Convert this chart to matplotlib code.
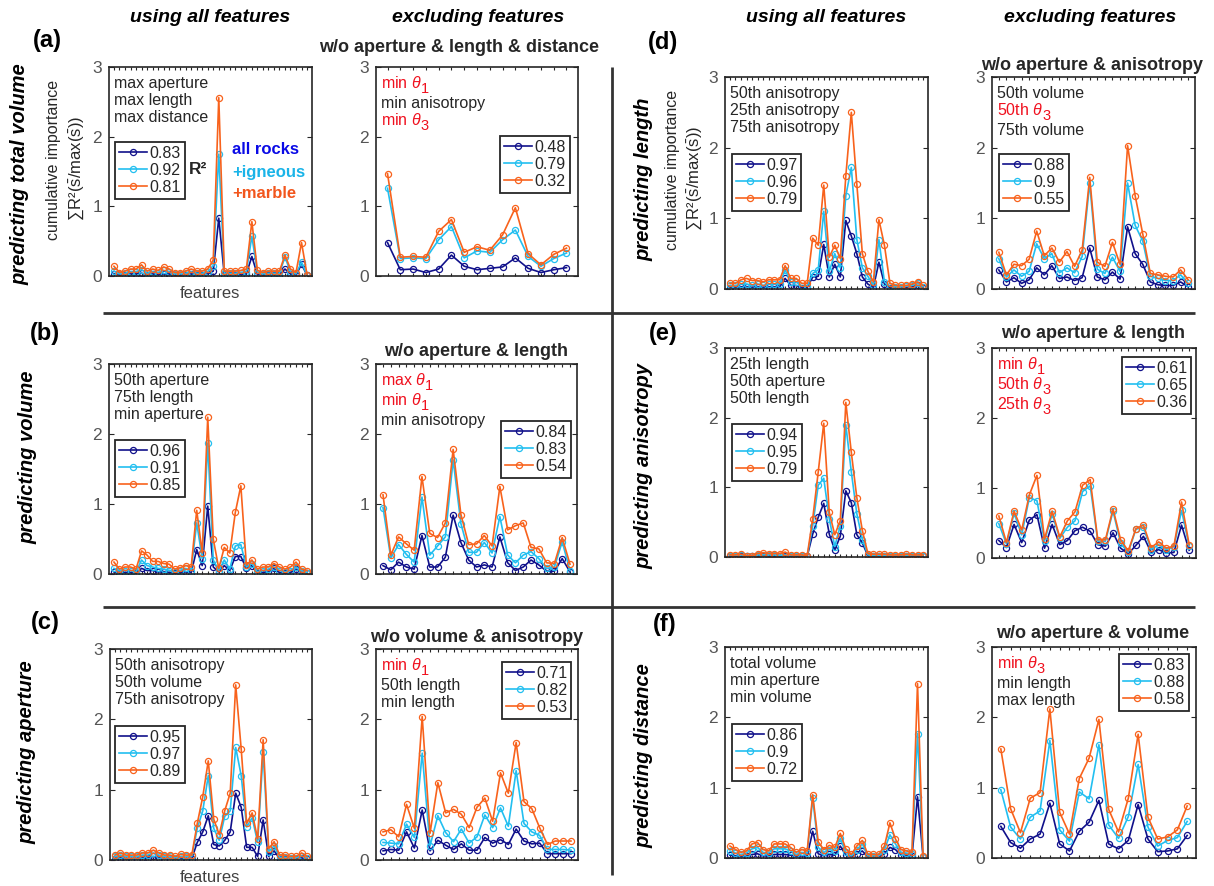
import matplotlib
matplotlib.use('Agg')
import matplotlib.pyplot as plt
from matplotlib.lines import Line2D

plt.rcParams['font.family'] = ['Liberation Sans', 'DejaVu Sans']
plt.rcParams['mathtext.fontset'] = 'custom'
plt.rcParams['mathtext.rm'] = 'Liberation Sans'
plt.rcParams['mathtext.it'] = 'Liberation Sans:italic'
plt.rcParams['mathtext.bf'] = 'Liberation Sans:bold'

W, H = 1214, 886

# ---- data: cumulative importance per feature (all rocks / +igneous / +marble)
a_all_navy = [0.03,0.01,0.02,0.03,0.03,0.04,0.02,0.03,0.02,0.03,0.03,0.01,0.01,0.02,0.03,0.02,0.02,0.03,0.07,0.83,0.02,0.02,0.02,0.02,0.03,0.28,0.02,0.01,0.02,0.02,0.02,0.10,0.03,0.01,0.17,0.01]
a_all_cyan = [0.07,0.03,0.04,0.06,0.06,0.09,0.04,0.06,0.05,0.08,0.06,0.03,0.03,0.04,0.06,0.04,0.04,0.06,0.15,1.75,0.04,0.04,0.04,0.05,0.06,0.57,0.05,0.03,0.04,0.04,0.04,0.27,0.06,0.03,0.20,0.01]
a_all_orange = [0.14,0.05,0.07,0.10,0.10,0.16,0.07,0.10,0.08,0.13,0.10,0.05,0.05,0.07,0.10,0.07,0.07,0.10,0.23,2.56,0.07,0.07,0.07,0.08,0.10,0.78,0.08,0.05,0.07,0.07,0.07,0.30,0.10,0.05,0.48,0.02]

a_ex_navy = [0.48,0.09,0.10,0.05,0.10,0.30,0.14,0.09,0.11,0.13,0.26,0.11,0.05,0.09,0.12]
a_ex_cyan = [1.26,0.25,0.26,0.25,0.52,0.71,0.26,0.36,0.34,0.52,0.66,0.28,0.14,0.25,0.33]
a_ex_orange = [1.47,0.27,0.28,0.27,0.64,0.81,0.34,0.42,0.37,0.59,0.98,0.32,0.16,0.31,0.40]

b_all_navy = [0.03,0.02,0.02,0.02,0.01,0.08,0.05,0.05,0.03,0.03,0.02,0.01,0.02,0.03,0.02,0.35,0.12,0.97,0.10,0.03,0.12,0.05,0.25,0.25,0.08,0.12,0.02,0.02,0.03,0.08,0.02,0.01,0.02,0.07,0.02,0.01]
b_all_cyan = [0.08,0.05,0.05,0.05,0.03,0.20,0.12,0.10,0.08,0.07,0.05,0.03,0.05,0.08,0.05,0.73,0.22,1.87,0.20,0.05,0.20,0.07,0.40,0.42,0.10,0.15,0.03,0.05,0.07,0.10,0.05,0.03,0.05,0.10,0.05,0.02]
b_all_orange = [0.17,0.07,0.10,0.10,0.07,0.33,0.27,0.18,0.18,0.15,0.14,0.07,0.09,0.12,0.10,0.91,0.30,2.24,0.50,0.08,0.38,0.30,0.88,1.26,0.13,0.20,0.07,0.10,0.10,0.15,0.10,0.07,0.10,0.17,0.07,0.05]

b_ex_navy = [0.12,0.06,0.17,0.10,0.07,0.55,0.10,0.10,0.24,0.84,0.45,0.20,0.10,0.13,0.10,0.53,0.16,0.05,0.10,0.20,0.13,0.04,0.04,0.22,0.03]
b_ex_cyan = [0.95,0.23,0.42,0.28,0.17,1.10,0.27,0.40,0.53,1.63,0.72,0.31,0.31,0.45,0.30,0.82,0.27,0.16,0.27,0.32,0.22,0.08,0.10,0.46,0.05]
b_ex_orange = [1.13,0.27,0.53,0.43,0.34,1.39,0.58,0.52,0.73,1.78,0.85,0.42,0.43,0.55,0.40,1.25,0.63,0.69,0.73,0.38,0.36,0.16,0.15,0.52,0.14]

c_all_navy = [0.02,0.03,0.02,0.02,0.02,0.03,0.03,0.05,0.03,0.02,0.02,0.01,0.02,0.02,0.02,0.25,0.40,0.63,0.22,0.20,0.28,0.40,0.95,0.75,0.18,0.18,0.05,0.57,0.05,0.13,0.02,0.02,0.01,0.01,0.03,0.01]
c_all_cyan = [0.05,0.07,0.05,0.05,0.05,0.07,0.07,0.10,0.07,0.05,0.05,0.03,0.05,0.05,0.05,0.45,0.70,1.20,0.45,0.28,0.62,0.70,1.60,1.20,0.47,0.60,0.25,1.53,0.12,0.20,0.04,0.04,0.03,0.03,0.06,0.03]
c_all_orange = [0.07,0.10,0.07,0.07,0.07,0.10,0.10,0.14,0.10,0.07,0.07,0.05,0.08,0.07,0.07,0.52,0.90,1.41,0.58,0.36,0.70,0.95,2.49,1.58,0.52,0.67,0.30,1.71,0.16,0.26,0.07,0.07,0.05,0.05,0.10,0.05]

c_ex_navy = [0.13,0.15,0.14,0.40,0.17,0.71,0.13,0.28,0.21,0.15,0.23,0.14,0.14,0.32,0.24,0.29,0.22,0.44,0.27,0.23,0.24,0.09,0.09,0.09,0.09]
c_ex_cyan = [0.25,0.24,0.23,0.51,0.32,1.52,0.20,0.63,0.39,0.26,0.44,0.24,0.33,0.64,0.46,0.74,0.48,1.27,0.52,0.40,0.35,0.15,0.15,0.15,0.14]
c_ex_orange = [0.40,0.43,0.33,0.79,0.45,2.04,0.38,1.10,0.67,0.72,0.65,0.46,0.75,0.88,0.55,1.24,0.95,1.67,0.83,0.73,0.46,0.22,0.27,0.27,0.27]

d_all_navy = [0.02,0.02,0.03,0.03,0.02,0.03,0.02,0.03,0.03,0.03,0.15,0.05,0.05,0.02,0.02,0.17,0.18,0.63,0.17,0.35,0.17,0.97,0.75,0.50,0.17,0.07,0.02,0.38,0.07,0.02,0.01,0.01,0.02,0.03,0.05,0.01]
d_all_cyan = [0.05,0.05,0.07,0.07,0.05,0.07,0.05,0.07,0.07,0.07,0.27,0.10,0.10,0.04,0.04,0.22,0.27,1.10,0.25,0.50,0.30,1.32,1.72,0.70,0.30,0.18,0.05,0.70,0.10,0.04,0.03,0.03,0.04,0.05,0.08,0.03]
d_all_orange = [0.08,0.08,0.13,0.15,0.12,0.12,0.10,0.13,0.13,0.13,0.33,0.15,0.15,0.08,0.08,0.72,0.62,1.47,0.45,0.62,0.43,1.60,2.50,1.48,0.50,0.25,0.10,0.98,0.62,0.08,0.05,0.05,0.05,0.07,0.10,0.05]

d_ex_navy = [0.27,0.10,0.16,0.08,0.13,0.30,0.20,0.33,0.15,0.17,0.12,0.16,0.58,0.17,0.13,0.24,0.14,0.88,0.50,0.35,0.10,0.06,0.05,0.05,0.10,0.03]
d_ex_cyan = [0.43,0.17,0.27,0.18,0.25,0.64,0.43,0.50,0.23,0.30,0.23,0.46,1.50,0.28,0.22,0.45,0.25,1.50,0.90,0.68,0.18,0.15,0.12,0.12,0.20,0.08]
d_ex_orange = [0.52,0.20,0.35,0.33,0.42,0.82,0.47,0.58,0.38,0.53,0.32,0.55,1.58,0.38,0.32,0.66,0.35,2.03,1.32,0.78,0.22,0.20,0.18,0.17,0.27,0.13]

e_all_navy = [0.01,0.01,0.01,0.01,0.01,0.01,0.02,0.01,0.01,0.01,0.02,0.01,0.01,0.01,0.01,0.33,0.57,0.77,0.33,0.10,0.30,0.95,0.78,0.32,0.20,0.02,0.01,0.01,0.01,0.01,0.01,0.01,0.01,0.01,0.01,0.01]
e_all_cyan = [0.02,0.02,0.03,0.01,0.01,0.03,0.03,0.03,0.03,0.02,0.03,0.02,0.02,0.02,0.01,0.45,1.03,1.13,0.55,0.15,0.45,1.90,1.22,0.62,0.25,0.03,0.02,0.02,0.02,0.02,0.02,0.02,0.02,0.02,0.02,0.02]
e_all_orange = [0.03,0.03,0.04,0.02,0.02,0.05,0.06,0.05,0.05,0.05,0.07,0.03,0.03,0.03,0.02,0.55,1.22,1.92,0.64,0.32,0.52,2.22,1.50,0.85,0.38,0.05,0.04,0.04,0.04,0.03,0.03,0.03,0.04,0.03,0.03,0.03]

e_ex_navy = [0.25,0.15,0.48,0.22,0.54,0.62,0.14,0.48,0.19,0.25,0.39,0.44,0.38,0.19,0.17,0.36,0.14,0.06,0.18,0.31,0.08,0.12,0.07,0.08,0.47,0.11]
e_ex_cyan = [0.49,0.20,0.64,0.33,0.86,0.82,0.24,0.63,0.28,0.44,0.53,0.95,1.03,0.24,0.24,0.67,0.21,0.08,0.41,0.44,0.12,0.19,0.12,0.16,0.68,0.17]
e_ex_orange = [0.60,0.22,0.67,0.40,0.90,1.18,0.27,0.67,0.30,0.53,0.66,1.04,1.12,0.26,0.26,0.70,0.26,0.10,0.42,0.47,0.15,0.23,0.14,0.17,0.80,0.19]

f_all_navy = [0.04,0.03,0.02,0.03,0.05,0.06,0.03,0.03,0.05,0.05,0.05,0.04,0.02,0.03,0.03,0.38,0.06,0.03,0.05,0.04,0.17,0.04,0.01,0.06,0.10,0.01,0.01,0.01,0.06,0.15,0.12,0.04,0.03,0.03,0.87,0.02]
f_all_cyan = [0.10,0.07,0.05,0.07,0.13,0.15,0.08,0.07,0.13,0.13,0.13,0.10,0.05,0.08,0.07,0.85,0.15,0.08,0.12,0.10,0.28,0.08,0.03,0.12,0.20,0.03,0.03,0.03,0.12,0.33,0.20,0.08,0.07,0.06,1.77,0.02]
f_all_orange = [0.17,0.12,0.08,0.10,0.20,0.22,0.12,0.10,0.20,0.20,0.20,0.15,0.08,0.12,0.10,0.90,0.23,0.12,0.18,0.15,0.35,0.13,0.05,0.17,0.25,0.05,0.05,0.05,0.17,0.50,0.27,0.12,0.10,0.08,2.48,0.03]

f_ex_navy = [0.45,0.22,0.14,0.27,0.34,0.78,0.20,0.10,0.38,0.51,0.82,0.20,0.13,0.25,0.76,0.27,0.09,0.10,0.13,0.32]
f_ex_cyan = [0.97,0.44,0.27,0.58,0.67,1.67,0.40,0.24,0.94,0.84,1.61,0.47,0.28,0.59,1.33,0.44,0.17,0.25,0.29,0.52]
f_ex_orange = [1.55,0.70,0.36,0.85,0.93,2.12,0.65,0.34,1.13,1.42,1.97,0.69,0.37,0.85,1.76,0.58,0.27,0.30,0.40,0.74]

NAVY, CYAN, ORANGE = '#10108a', '#22bff0', '#f8621c'
RED, DARK = '#f0101e', '#262626'
TH = r'$\theta$'

# top-feature lines: (text, subscript or None, colour)
panels = [
    dict(box=(109, 67, 312, 276), y=(a_all_navy, a_all_cyan, a_all_orange), r2=('0.83', '0.92', '0.81'),
         top=[('max aperture', None, DARK), ('max length', None, DARK), ('max distance', None, DARK)],
         leg=(115, 142)),
    dict(box=(376, 67, 578, 276), y=(a_ex_navy, a_ex_cyan, a_ex_orange), r2=('0.48', '0.79', '0.32'),
         top=[('min ' + TH, '1', RED), ('min anisotropy', None, DARK), ('min ' + TH, '3', RED)],
         leg=(500, 136), sub=('w/o aperture & length & distance', 459, 47)),
    dict(box=(109, 364, 312, 574), y=(b_all_navy, b_all_cyan, b_all_orange), r2=('0.96', '0.91', '0.85'),
         top=[('50th aperture', None, DARK), ('75th length', None, DARK), ('min aperture', None, DARK)],
         leg=(115, 440)),
    dict(box=(376, 364, 577, 574), y=(b_ex_navy, b_ex_cyan, b_ex_orange), r2=('0.84', '0.83', '0.54'),
         top=[('max ' + TH, '1', RED), ('min ' + TH, '1', RED), ('min anisotropy', None, DARK)],
         leg=(501, 421), sub=('w/o aperture & length', 476, 352)),
    dict(box=(110, 649, 312, 860), y=(c_all_navy, c_all_cyan, c_all_orange), r2=('0.95', '0.97', '0.89'),
         top=[('50th anisotropy', None, DARK), ('50th volume', None, DARK), ('75th anisotropy', None, DARK)],
         leg=(115, 726)),
    dict(box=(376, 649, 578, 860), y=(c_ex_navy, c_ex_cyan, c_ex_orange), r2=('0.71', '0.82', '0.53'),
         top=[('min ' + TH, '1', RED), ('50th length', None, DARK), ('min length', None, DARK)],
         leg=(502, 662), sub=('w/o volume & anisotropy', 477, 637)),
    dict(box=(725, 77, 928, 289), y=(d_all_navy, d_all_cyan, d_all_orange), r2=('0.97', '0.96', '0.79'),
         top=[('50th anisotropy', None, DARK), ('25th anisotropy', None, DARK), ('75th anisotropy', None, DARK)],
         leg=(732, 154)),
    dict(box=(992, 77, 1195, 289), y=(d_ex_navy, d_ex_cyan, d_ex_orange), r2=('0.88', '0.9', '0.55'),
         top=[('50th volume', None, DARK), ('50th ' + TH, '3', RED), ('75th volume', None, DARK)],
         leg=(999, 154), sub=('w/o aperture & anisotropy', 1092, 65)),
    dict(box=(725, 348, 928, 557), y=(e_all_navy, e_all_cyan, e_all_orange), r2=('0.94', '0.95', '0.79'),
         top=[('25th length', None, DARK), ('50th aperture', None, DARK), ('50th length', None, DARK)],
         leg=(732, 424)),
    dict(box=(992, 348, 1196, 558), y=(e_ex_navy, e_ex_cyan, e_ex_orange), r2=('0.61', '0.65', '0.36'),
         top=[('min ' + TH, '1', RED), ('50th ' + TH, '3', RED), ('25th ' + TH, '3', RED)],
         leg=(1122, 357), sub=('w/o aperture & length', 1093, 333)),
    dict(box=(725, 647, 928, 858), y=(f_all_navy, f_all_cyan, f_all_orange), r2=('0.86', '0.9', '0.72'),
         top=[('total volume', None, DARK), ('min aperture', None, DARK), ('min volume', None, DARK)],
         leg=(732, 724)),
    dict(box=(992, 647, 1196, 858), y=(f_ex_navy, f_ex_cyan, f_ex_orange), r2=('0.83', '0.88', '0.58'),
         top=[('min ' + TH, '3', RED), ('min length', None, DARK), ('max length', None, DARK)],
         leg=(1119, 654), sub=('w/o aperture & volume', 1093, 634)),
]

fig = plt.figure(figsize=(W / 100, H / 100), dpi=100)
renderer = fig.canvas.get_renderer()


def ftext(x, y, s, **kw):
    return fig.text(x / W, 1 - y / H, s, **kw)


def fline(x0, y0, x1, y1, lw=2.0):
    fig.add_artist(Line2D([x0 / W, x1 / W], [1 - y0 / H, 1 - y1 / H], transform=fig.transFigure,
                          color='#333333', lw=lw, solid_capstyle='butt'))


for p in panels:
    l, t, r, b = p['box']
    ax = fig.add_axes([l / W, 1 - b / H, (r - l) / W, (b - t) / H])
    n = len(p['y'][0])
    xs = list(range(1, n + 1))
    handles = []
    for yv, col in zip(p['y'], (NAVY, CYAN, ORANGE)):
        h, = ax.plot(xs, yv, '-o', color=col, lw=1.2, ms=4.4, mfc='none', mew=0.9)
        handles.append(h)
    ax.set_xlim(0.1, n + 0.9)
    ax.set_ylim(0, 3)
    ax.set_xticks(xs)
    ax.set_xticklabels([])
    ax.set_yticks([0, 1, 2, 3])
    ax.tick_params(axis='x', direction='in', top=True, bottom=True, length=2.5, width=0.8, color=DARK)
    ax.tick_params(axis='y', direction='in', left=True, right=True, length=3.5, width=0.8, color=DARK,
                   labelsize=12.5, labelcolor='#555555', pad=5)
    for s in ax.spines.values():
        s.set_color(DARK)
        s.set_linewidth(1.2)
    yb = t + 21
    for txt, subs, col in p['top']:
        tx = ftext(l + 5, yb, txt, color=col, fontsize=11.5, va='baseline', ha='left')
        if subs:
            bb = tx.get_window_extent(renderer)
            ftext(bb.x1 - 1, yb + 5, subs, color=col, fontsize=10.5, va='baseline', ha='left')
            yb += 20
        else:
            yb += 17
    lx, ly = p['leg']
    leg = ax.legend(handles, p['r2'], loc='upper left', bbox_to_anchor=(lx / W, 1 - ly / H),
                    bbox_transform=fig.transFigure, fontsize=11.5, handlelength=1.75, handletextpad=0.15,
                    borderpad=0.25, labelspacing=0.12, borderaxespad=0, fancybox=False, framealpha=1)
    leg.get_frame().set_edgecolor(DARK)
    leg.get_frame().set_linewidth(1.3)
    for tx in leg.get_texts():
        tx.set_color(DARK)
    if 'sub' in p:
        s, sx, sy = p['sub']
        ftext(sx, sy, s, fontsize=13, fontweight='bold', ha='center', va='center', color=DARK)

# column headers
for cx, s in [(210, 'using all features'), (478, 'excluding features'),
              (826, 'using all features'), (1090, 'excluding features')]:
    ftext(cx, 18, s, fontsize=14, fontweight='bold', fontstyle='italic', ha='center', va='center', color='black')

# panel letters
for lx, ly, s in [(47, 40, '(a)'), (45, 333, '(b)'), (45, 622, '(c)'),
                  (663, 43, '(d)'), (663, 333, '(e)'), (665, 625, '(f)')]:
    ftext(lx, ly, s, fontsize=17, fontweight='bold', ha='center', va='center', color='black')

# row labels
for rx, ry, s in [(20, 174, 'predicting total volume'), (28, 457, 'predicting volume'),
                  (27, 752, 'predicting aperture'), (644, 179, 'predicting length'),
                  (644, 466, 'predicting anisotropy'), (644, 756, 'predicting distance')]:
    ftext(rx, ry, s, fontsize=14.5, fontweight='bold', fontstyle='italic', rotation=90,
          ha='center', va='center', color='black')

# y labels
ylab1 = 'cumulative importance'
ylab2 = r'∑R²($\bar{\mathrm{s}}$/max($\bar{\mathrm{s}}$))'
for x1, x2, yc in [(54, 77, 160), (672, 695, 170)]:
    ftext(x1, yc, ylab1, fontsize=11.5, rotation=90, ha='center', va='center', color=DARK)
    ftext(x2, yc + 8, ylab2, fontsize=12, rotation=90, ha='center', va='center', color=DARK)

# x labels
for yx in (293, 877):
    ftext(210, yx, 'features', fontsize=12, ha='center', va='center', color='#404040')

# R2 key in panel (a)
ftext(198, 170, 'R²', fontsize=12.5, fontweight='bold', ha='center', va='center', color=DARK)
ftext(232, 150, 'all rocks', fontsize=12, fontweight='bold', ha='left', va='center', color='#0a0ae6')
ftext(232, 172, '+igneous', fontsize=12, fontweight='bold', ha='left', va='center', color='#1ab4e8')
ftext(232, 193, '+marble', fontsize=12, fontweight='bold', ha='left', va='center', color='#f2561d')

# separators
fline(612, 67, 612, 875)
fline(103, 313, 1195, 313)
fline(103, 607, 1195, 607)

fig.savefig('out.png', dpi=100)
